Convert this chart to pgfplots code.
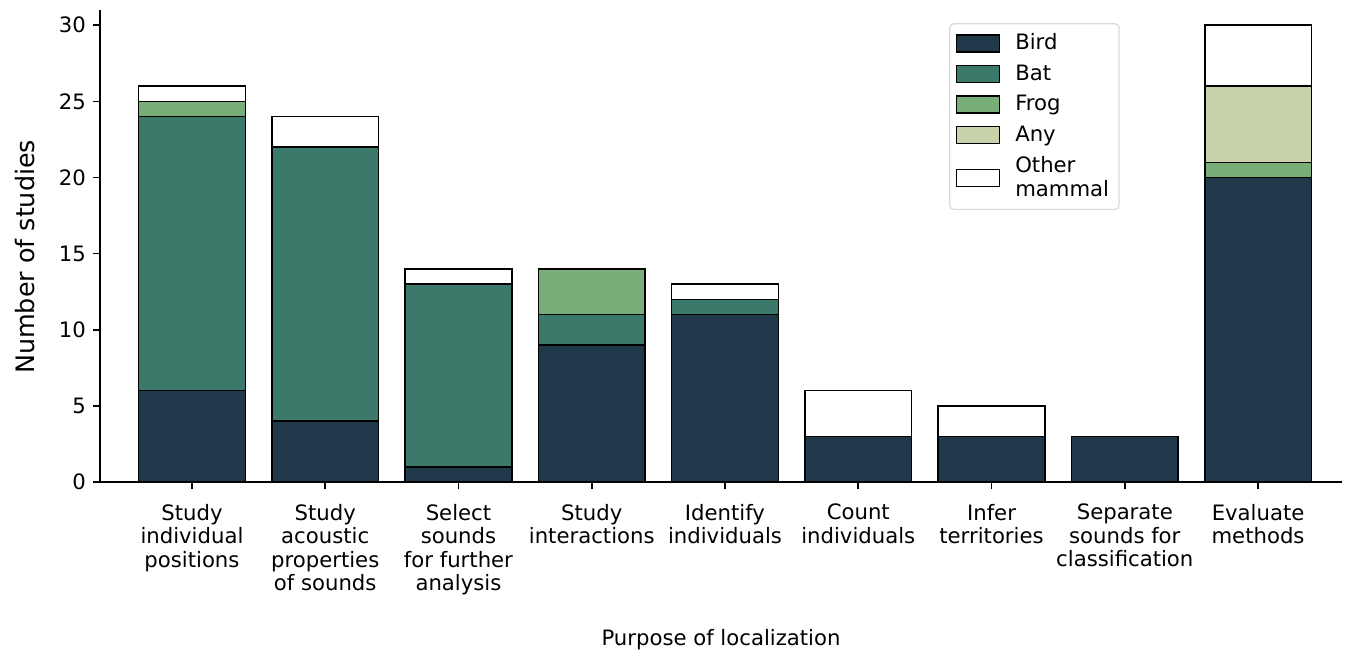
\documentclass[border=0pt]{standalone}
\usepackage{pgfplots}
\usepackage{pgfplotstable}
\pgfplotsset{compat=1.18}
\usepackage{fontspec}
\setmainfont{DejaVu Sans}
\definecolor{cbird}{RGB}{31,57,74}
\definecolor{cbat}{RGB}{59,122,106}
\definecolor{cfrog}{RGB}{122,174,120}
\definecolor{cany}{RGB}{201,211,170}
\pgfplotstableread{
x bird bat frog any other
0 6 18 1 0 1
1 4 18 0 0 2
2 1 12 0 0 1
3 9 2 3 0 0
4 11 1 0 0 1
5 3 0 0 0 3
6 3 0 0 0 2
7 3 0 0 0 0
8 20 0 1 5 4
}\data
\begin{document}
\begin{tikzpicture}
\begin{axis}[
  name=ax,
  scale only axis,
  width=621pt, height=236pt,
  ybar stacked, bar width=0.8,
  xmin=-0.69, xmax=8.63, ymin=0, ymax=31,
  axis x line*=bottom, axis y line*=left,
  axis line style={-, line width=0.8pt},
  xtick=data,
  xticklabels={{Study\\individual\\positions},{Study\\acoustic\\properties\\of sounds},{Select\\sounds\\for further\\analysis},{Study\\interactions},{Identify\\individuals},{Count\\individuals},{Infer\\territories},{Separate\\sounds for\\classification},{Evaluate\\methods}},
  xticklabel style={align=center, font=\fontsize{10.6}{11.75}\selectfont, yshift=-4pt},
  yticklabel style={font=\fontsize{10.6}{12}\selectfont},
  ytick={0,5,10,15,20,25,30},
  tick align=outside, tick pos=left,
  major tick length=3.5pt,
  tick style={black, line width=0.8pt},
  /pgf/number format/assume math mode=true,
  ylabel={Number of studies},
  xlabel={Purpose of localization},
  ylabel style={at={(axis description cs:-0.0604,0.477)}, anchor=center, font=\fontsize{12.7}{14}\selectfont},
  xlabel style={at={(axis description cs:0.5,-0.334)}, anchor=center, font=\fontsize{10.6}{12}\selectfont},
  every axis plot/.append style={draw=black, line width=0.75pt},
  legend cell align=left,
  legend style={at={(0.821,0.972)}, anchor=north east, draw=black!15, rounded corners=2pt, line width=0.6pt, cells={align=left}, row sep=2pt, inner sep=3pt, font=\fontsize{10.6}{12}\selectfont},
  legend image code/.code={\draw[#1,sharp corners] (0pt,-4.25pt) rectangle (21.5pt,4.25pt); \path (27pt,0pt);},
]
\addplot[fill=cbird] table[x=x,y=bird]{\data};
\addplot[fill=cbat] table[x=x,y=bat]{\data};
\addplot[fill=cfrog] table[x=x,y=frog]{\data};
\addplot[fill=cany] table[x=x,y=any]{\data};
\addplot[fill=white] table[x=x,y=other]{\data};
\legend{Bird,Bat,Frog,Any,{Other\\mammal}}
\end{axis}
\pgfresetboundingbox
\path ([xshift=-50pt,yshift=-85pt]ax.south west) rectangle ([xshift=2.5pt,yshift=5pt]ax.north east);
\end{tikzpicture}
\end{document}
